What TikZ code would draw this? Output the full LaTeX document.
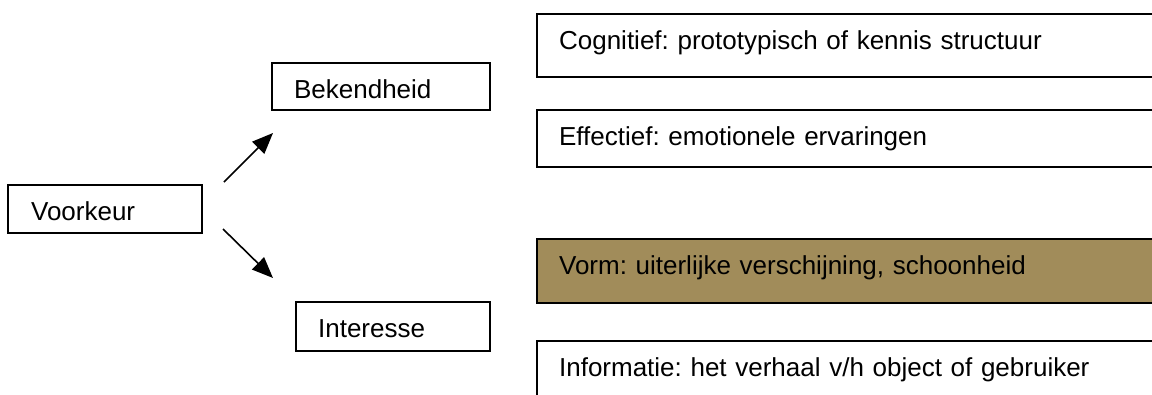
\documentclass[tikz,border=0pt]{standalone}
\usepackage{fontspec}
\setmainfont{Liberation Sans}
\usetikzlibrary{arrows.meta}
\definecolor{vormfill}{RGB}{161,140,90}
\frenchspacing
\begin{document}
\begin{tikzpicture}[x=1pt,y=-1pt,
  box/.style={draw=black, line width=2.2pt, rectangle, anchor=north west,
    inner ysep=0pt, inner xsep=22pt, align=left, text height=30pt,
    font=\fontsize{26}{30}\selectfont\frenchspacing},
  conn/.style={line width=1.6pt, -{Triangle[length=21pt,width=17pt]}}]
\useasboundingbox (0,0) rectangle (1152,394);
\clip (0,0) rectangle (1152,394);
\node[box, inner xsep=23pt, text width=148pt, text depth=7pt, minimum height=48pt] (voorkeur) at (7,184) {Voorkeur};
\node[box, text width=174pt, text depth=6pt, minimum height=47pt] (bekendheid) at (271,62) {Bekendheid};
\node[box, text width=150pt, text depth=8pt, minimum height=49pt] (interesse) at (295,301) {Interesse};
\node[box, text width=590pt, text depth=22pt, minimum height=63pt] (cognitief) at (536,13) {Cognitief: prototypisch of kennis structuur};
\node[box, text width=590pt, text depth=16pt, minimum height=57pt] (effectief) at (536,109) {Effectief: emotionele ervaringen};
\node[box, fill=vormfill, text width=590pt, text depth=23pt, minimum height=64pt] (vorm) at (536,238) {Vorm: uiterlijke verschijning, schoonheid};
\node[box, text width=590pt, text depth=39pt, minimum height=80pt] (informatie) at (536,340) {Informatie: het verhaal v/h object of gebruiker};
\coordinate (upstart) at (224,182);
\coordinate (upend) at (273,133);
\coordinate (downstart) at (223,229);
\coordinate (downend) at (273,278);
\draw[conn] (upstart) -- (upend);
\draw[conn] (downstart) -- (downend);
\end{tikzpicture}
\end{document}
